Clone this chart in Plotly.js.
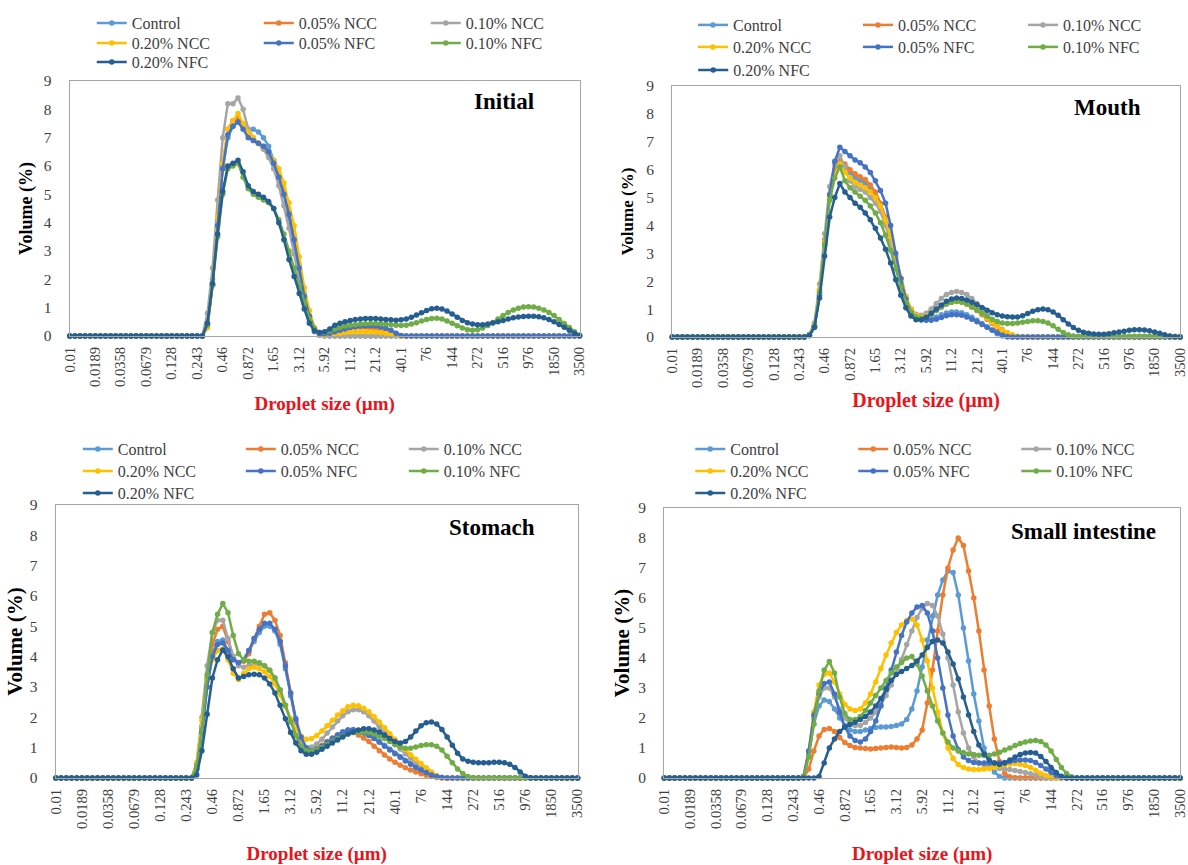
<!DOCTYPE html>
<html>
<head>
<meta charset="utf-8">
<script src="https://cdn.plot.ly/plotly-3.0.1.min.js"></script>
<style>html,body{margin:0;padding:0;background:#fff;}#chart{width:1188px;height:865px;}</style>
</head>
<body>
<div id="chart"></div>
<script>
// Droplet size classes (µm) – 101 categories
const sizes = ['0.01','0.0114','0.0129','0.0147','0.0167','0.0189','0.0215','0.0244','0.0278','0.0315',
'0.0358','0.0407','0.0463','0.0526','0.0597','0.0679','0.0771','0.0876','0.0995','0.113',
'0.128','0.146','0.166','0.188','0.214','0.243','0.276','0.314','0.357','0.405',
'0.46','0.523','0.594','0.675','0.767','0.872','0.991','1.13','1.28','1.45',
'1.65','1.88','2.13','2.42','2.75','3.12','3.55','4.03','4.58','5.21',
'5.92','6.72','7.64','8.68','9.86','11.2','12.7','14.5','16.4','18.7',
'21.2','24.1','27.4','31.1','35.3','40.1','45.6','51.8','58.9','66.9',
'76','86.4','98.1','111','127','144','163','186','211','240',
'272','310','352','400','454','516','586','666','756','859',
'976','1110','1260','1430','1630','1850','2100','2390','2710','3080','3500'];

const tickLabels = ['0.01','0.0189','0.0358','0.0679','0.128','0.243','0.46','0.872','1.65','3.12','5.92',
'11.2','21.2','40.1','76','144','272','516','976','1850','3500'];

const seriesNames = ['Control','0.05% NCC','0.10% NCC','0.20% NCC','0.05% NFC','0.10% NFC','0.20% NFC'];
const panelTitles = ['Initial','Mouth','Stomach','Small intestine'];

// ---------- Initial ----------
const ini_ctrl = [0,0,0,0,0,0,0,0,0,0, 0,0,0,0,0,0,0,0,0,0, 0,0,0,0,0,0,0,
 0.4,2.0,4.1,
 5.9,7.0,7.4,7.6,7.4,7.3,7.3,7.2,7.0,6.7,
 6.2,5.7,5.0,4.2,3.3,2.3,1.4,0.7,0.2,0.05,
 0,0,0,0,0,0,0,0,0,0, 0,0,0,0,0,0,0,0,0,0, 0,0,0,0,0,0,0,0,0,0,
 0,0,0,0,0,0,0,0,0,0, 0,0,0,0,0,0,0,0,0,0, 0];
const ini_ncc05 = [0,0,0,0,0,0,0,0,0,0, 0,0,0,0,0,0,0,0,0,0, 0,0,0,0,0,0,0,
 0.3,1.8,4.0,
 6.0,7.3,7.6,7.7,7.4,7.1,6.9,6.8,6.6,6.4,
 6.1,5.7,5.1,4.4,3.5,2.5,1.5,0.7,0.25,0.08,
 0.05,0.1,0.15,0.2,0.25,0.28,0.3,0.3,0.3,0.28,
 0.25,0.2,0.15,0.08,0.02,0,0,0,0,0,
 0,0,0,0,0,0,0,0,0,0, 0,0,0,0,0,0,0,0,0,0, 0,0,0,0,0,0,0,0,0,0, 0];
const ini_ncc10 = [0,0,0,0,0,0,0,0,0,0, 0,0,0,0,0,0,0,0,0,0, 0,0,0,0,0,0,0,
 0.8,2.4,4.8,
 7.0,8.2,8.2,8.4,8.0,7.3,7.0,6.8,6.6,6.3,
 5.9,5.3,4.6,3.8,2.9,2.0,1.1,0.5,0.15,0.02,
 0,0,0,0,0,0,0,0,0,0, 0,0,0,0,0,0,0,0,0,0, 0,0,0,0,0,0,0,0,0,0,
 0,0,0,0,0,0,0,0,0,0, 0,0,0,0,0,0,0,0,0,0, 0];
const ini_ncc20 = [0,0,0,0,0,0,0,0,0,0, 0,0,0,0,0,0,0,0,0,0, 0,0,0,0,0,0,0,
 0.3,1.8,4.2,
 6.1,7.3,7.6,7.85,7.5,7.2,7.0,6.8,6.7,6.5,
 6.2,5.9,5.4,4.7,3.9,2.8,1.7,0.9,0.3,0.05,
 0.02,0.05,0.08,0.1,0.12,0.14,0.15,0.15,0.15,0.15,
 0.14,0.12,0.1,0.07,0.03,0,0,0,0,0,
 0,0,0,0,0,0,0,0,0,0, 0,0,0,0,0,0,0,0,0,0, 0,0,0,0,0,0,0,0,0,0, 0];
const ini_nfc05 = [0,0,0,0,0,0,0,0,0,0, 0,0,0,0,0,0,0,0,0,0, 0,0,0,0,0,0,0,
 0.4,1.8,3.9,
 5.9,7.1,7.4,7.55,7.3,7.0,6.9,6.8,6.7,6.5,
 6.1,5.6,5.0,4.3,3.4,2.4,1.4,0.7,0.25,0.08,
 0.05,0.1,0.15,0.2,0.25,0.3,0.33,0.35,0.36,0.36,
 0.35,0.32,0.27,0.2,0.1,0.02,0,0,0,0,
 0,0,0,0,0,0,0,0,0,0, 0,0,0,0,0,0,0,0,0,0, 0,0,0,0,0,0,0,0,0,0, 0];
const ini_nfc10 = [0,0,0,0,0,0,0,0,0,0, 0,0,0,0,0,0,0,0,0,0, 0,0,0,0,0,0,0,
 0.4,1.8,3.5,
 5.0,5.9,6.0,6.1,5.6,5.2,5.0,4.9,4.8,4.7,
 4.5,4.1,3.6,3.0,2.4,1.8,1.2,0.6,0.25,0.12,
 0.12,0.18,0.25,0.3,0.35,0.38,0.4,0.42,0.43,0.44,
 0.44,0.43,0.42,0.4,0.38,0.37,0.38,0.42,0.47,0.53,
 0.58,0.62,0.63,0.6,0.53,0.45,0.36,0.28,0.22,0.2,
 0.22,0.28,0.37,0.48,0.6,0.72,0.83,0.92,0.98,1.02,
 1.03,1.02,0.98,0.92,0.83,0.72,0.58,0.44,0.3,0.15,
 0.03];
const ini_nfc20 = [0,0,0,0,0,0,0,0,0,0, 0,0,0,0,0,0,0,0,0,0, 0,0,0,0,0,0,0,
 0.45,1.85,3.6,
 5.1,6.0,6.1,6.2,5.8,5.3,5.1,5.0,4.9,4.75,
 4.5,4.0,3.4,2.7,2.1,1.5,0.95,0.45,0.18,0.12,
 0.15,0.25,0.38,0.45,0.5,0.55,0.58,0.6,0.62,0.62,
 0.62,0.6,0.58,0.57,0.56,0.57,0.6,0.66,0.74,0.82,
 0.9,0.96,0.98,0.95,0.88,0.78,0.66,0.55,0.47,0.42,
 0.4,0.4,0.42,0.46,0.5,0.55,0.6,0.64,0.67,0.69,
 0.7,0.7,0.68,0.64,0.58,0.5,0.41,0.31,0.2,0.1,
 0.02];

// ---------- Mouth ----------
const mou_ctrl = [0,0,0,0,0,0,0,0,0,0, 0,0,0,0,0,0,0,0,0,0, 0,0,0,0,0,0,0,
 0.05,0.4,1.6,
 3.4,5.0,5.9,6.3,6.1,5.9,5.7,5.6,5.5,5.3,
 5.0,4.6,4.1,3.5,2.8,2.1,1.4,0.95,0.72,0.62,
 0.62,0.66,0.72,0.8,0.86,0.9,0.9,0.87,0.8,0.71,
 0.6,0.48,0.36,0.24,0.12,0.04,0,0,0,0,
 0,0,0,0,0,0,0,0,0,0, 0,0,0,0,0,0,0,0,0,0, 0,0,0,0,0,0,0,0,0,0, 0];
const mou_ncc05 = [0,0,0,0,0,0,0,0,0,0, 0,0,0,0,0,0,0,0,0,0, 0,0,0,0,0,0,0,
 0.05,0.4,1.7,
 3.5,5.1,6.0,6.35,6.2,6.0,5.85,5.75,5.65,5.45,
 5.2,4.8,4.3,3.6,2.9,2.1,1.45,1.0,0.78,0.7,
 0.72,0.82,0.95,1.08,1.18,1.25,1.27,1.25,1.18,1.08,
 0.95,0.8,0.64,0.48,0.33,0.2,0.1,0.04,0.01,0,
 0,0,0,0,0,0,0,0,0,0, 0,0,0,0,0,0,0,0,0,0, 0,0,0,0,0,0,0,0,0,0, 0];
const mou_ncc10 = [0,0,0,0,0,0,0,0,0,0, 0,0,0,0,0,0,0,0,0,0, 0,0,0,0,0,0,0,
 0.1,0.5,1.9,
 3.7,5.4,6.2,6.5,6.1,5.6,5.4,5.3,5.2,5.0,
 4.8,4.5,4.0,3.4,2.7,2.0,1.4,1.0,0.82,0.78,
 0.85,1.0,1.2,1.38,1.52,1.6,1.63,1.6,1.52,1.38,
 1.2,1.0,0.8,0.6,0.42,0.27,0.15,0.07,0.02,0,
 0,0,0,0,0,0,0,0,0,0, 0,0,0,0,0,0,0,0,0,0, 0,0,0,0,0,0,0,0,0,0, 0];
const mou_ncc20 = [0,0,0,0,0,0,0,0,0,0, 0,0,0,0,0,0,0,0,0,0, 0,0,0,0,0,0,0,
 0.05,0.4,1.7,
 3.4,5.0,5.8,6.2,5.9,5.7,5.55,5.45,5.35,5.2,
 5.0,4.7,4.2,3.6,2.9,2.1,1.45,1.0,0.78,0.72,
 0.75,0.85,0.98,1.1,1.2,1.26,1.28,1.26,1.2,1.1,
 0.98,0.84,0.68,0.52,0.38,0.25,0.15,0.08,0.03,0,
 0,0,0,0,0,0,0,0,0,0, 0,0,0,0,0,0,0,0,0,0, 0,0,0,0,0,0,0,0,0,0, 0];
const mou_nfc05 = [0,0,0,0,0,0,0,0,0,0, 0,0,0,0,0,0,0,0,0,0, 0,0,0,0,0,0,0,
 0.05,0.35,1.5,
 3.3,5.1,6.3,6.8,6.65,6.5,6.35,6.25,6.1,5.9,
 5.6,5.25,4.8,4.0,3.0,2.1,1.35,0.9,0.7,0.62,
 0.6,0.6,0.64,0.7,0.76,0.8,0.8,0.78,0.72,0.64,
 0.55,0.45,0.35,0.25,0.15,0.06,0.02,0,0,0,
 0,0,0,0,0,0,0,0,0,0, 0,0,0,0,0,0,0,0,0,0, 0,0,0,0,0,0,0,0,0,0, 0];
const mou_nfc10 = [0,0,0,0,0,0,0,0,0,0, 0,0,0,0,0,0,0,0,0,0, 0,0,0,0,0,0,0,
 0.05,0.4,1.6,
 3.3,4.9,5.7,6.1,5.6,5.35,5.2,5.05,4.9,4.7,
 4.45,4.1,3.65,3.1,2.45,1.8,1.25,0.9,0.72,0.68,
 0.72,0.82,0.95,1.08,1.18,1.25,1.28,1.25,1.18,1.08,
 0.96,0.85,0.74,0.64,0.56,0.5,0.48,0.48,0.5,0.53,
 0.56,0.58,0.58,0.56,0.5,0.4,0.28,0.16,0.08,0.04,
 0.03,0.03,0.03,0.03,0.03,0.03,0.03,0.03,0.03,0.03,
 0.03,0.03,0.03,0.03,0.03,0.03,0.03,0.03,0.03,0.03,
 0.02];
const mou_nfc20 = [0,0,0,0,0,0,0,0,0,0, 0,0,0,0,0,0,0,0,0,0, 0,0,0,0,0,0,0,
 0.05,0.35,1.4,
 2.9,4.3,5.0,5.5,5.2,5.0,4.8,4.65,4.45,4.2,
 3.9,3.55,3.15,2.65,2.05,1.5,1.05,0.75,0.62,0.62,
 0.7,0.85,1.0,1.15,1.28,1.36,1.4,1.38,1.33,1.25,
 1.16,1.06,0.96,0.87,0.8,0.75,0.73,0.72,0.72,0.76,
 0.84,0.92,0.98,1.0,0.98,0.9,0.78,0.62,0.47,0.34,
 0.24,0.17,0.13,0.11,0.1,0.1,0.12,0.15,0.18,0.21,
 0.24,0.26,0.26,0.25,0.22,0.18,0.13,0.08,0.04,0.01,
 0];

// ---------- Stomach ----------
const sto_ctrl = [0,0,0,0,0,0,0,0,0,0, 0,0,0,0,0,0,0,0,0,0, 0,0,0,0,0,0,0,
 0.3,1.5,3.0,
 4.1,4.5,4.55,4.2,3.9,3.8,3.9,4.2,4.5,4.8,
 5.0,5.0,4.85,4.4,3.6,2.7,1.85,1.3,1.0,0.9,
 0.95,1.05,1.18,1.3,1.42,1.52,1.58,1.6,1.57,1.5,
 1.42,1.32,1.2,1.08,0.95,0.82,0.7,0.58,0.47,0.37,
 0.28,0.2,0.12,0.06,0.02,0,0,0,0,0,
 0,0,0,0,0,0,0,0,0,0, 0,0,0,0,0,0,0,0,0,0, 0];
const sto_ncc05 = [0,0,0,0,0,0,0,0,0,0, 0,0,0,0,0,0,0,0,0,0, 0,0,0,0,0,0,0,
 0.4,1.7,3.3,
 4.4,4.9,5.0,4.5,4.0,3.8,3.85,4.1,4.6,5.0,
 5.4,5.45,5.2,4.7,3.8,2.8,1.9,1.3,1.0,0.92,
 0.98,1.08,1.2,1.32,1.42,1.5,1.52,1.5,1.42,1.32,
 1.2,1.05,0.9,0.76,0.63,0.52,0.42,0.34,0.26,0.2,
 0.14,0.09,0.05,0.02,0,0,0,0,0,0,
 0,0,0,0,0,0,0,0,0,0, 0,0,0,0,0,0,0,0,0,0, 0];
const sto_ncc10 = [0,0,0,0,0,0,0,0,0,0, 0,0,0,0,0,0,0,0,0,0, 0,0,0,0,0,0,0,
 0.5,2.0,3.7,
 4.8,5.2,5.2,4.6,4.0,3.7,3.65,3.7,3.75,3.75,
 3.7,3.55,3.3,2.9,2.4,1.85,1.4,1.1,1.0,1.02,
 1.12,1.28,1.48,1.68,1.88,2.05,2.18,2.25,2.25,2.18,
 2.05,1.88,1.68,1.48,1.3,1.12,0.96,0.8,0.65,0.5,
 0.37,0.25,0.15,0.07,0.02,0,0,0,0,0,
 0,0,0,0,0,0,0,0,0,0, 0,0,0,0,0,0,0,0,0,0, 0];
const sto_ncc20 = [0,0,0,0,0,0,0,0,0,0, 0,0,0,0,0,0,0,0,0,0, 0,0,0,0,0,0,0,
 0.5,1.9,3.2,
 3.9,4.2,4.25,3.9,3.45,3.25,3.45,3.6,3.65,3.6,
 3.5,3.35,3.1,2.75,2.35,1.95,1.6,1.38,1.28,1.3,
 1.4,1.55,1.72,1.9,2.08,2.22,2.35,2.4,2.38,2.3,
 2.18,2.02,1.85,1.66,1.46,1.28,1.1,0.93,0.77,0.62,
 0.48,0.34,0.2,0.08,0.01,0,0,0,0,0,
 0,0,0,0,0,0,0,0,0,0, 0,0,0,0,0,0,0,0,0,0, 0];
const sto_nfc05 = [0,0,0,0,0,0,0,0,0,0, 0,0,0,0,0,0,0,0,0,0, 0,0,0,0,0,0,0,
 0.3,1.5,3.0,
 4.0,4.4,4.45,4.2,3.9,3.8,3.9,4.2,4.6,4.9,
 5.1,5.1,4.9,4.5,3.7,2.8,1.95,1.35,1.0,0.9,
 0.95,1.05,1.18,1.3,1.42,1.52,1.58,1.58,1.55,1.48,
 1.4,1.3,1.18,1.05,0.92,0.8,0.68,0.56,0.45,0.35,
 0.26,0.18,0.1,0.05,0.02,0,0,0,0,0,
 0,0,0,0,0,0,0,0,0,0, 0,0,0,0,0,0,0,0,0,0, 0];
const sto_nfc10 = [0,0,0,0,0,0,0,0,0,0, 0,0,0,0,0,0,0,0,0,0, 0,0,0,0,0,0,0,
 0.4,1.6,3.4,
 4.8,5.4,5.75,5.45,4.7,4.1,3.9,3.85,3.85,3.8,
 3.7,3.55,3.3,2.9,2.4,1.85,1.4,1.05,0.9,0.88,
 0.92,1.0,1.1,1.2,1.3,1.38,1.45,1.5,1.52,1.52,
 1.5,1.45,1.38,1.3,1.2,1.1,1.02,0.98,0.98,1.02,
 1.07,1.1,1.1,1.05,0.92,0.72,0.5,0.3,0.15,0.05,
 0.01,0,0,0,0,0,0,0,0,0,
 0,0,0,0,0,0,0,0,0,0, 0];
const sto_nfc20 = [0,0,0,0,0,0,0,0,0,0, 0,0,0,0,0,0,0,0,0,0, 0,0,0,0,0,0,0,
 0.1,0.9,2.1,
 3.3,3.9,4.22,4.0,3.6,3.3,3.35,3.4,3.42,3.4,
 3.3,3.1,2.8,2.4,1.95,1.5,1.15,0.9,0.78,0.78,
 0.85,0.95,1.05,1.15,1.25,1.35,1.45,1.52,1.58,1.62,
 1.62,1.58,1.52,1.42,1.3,1.2,1.15,1.2,1.35,1.55,
 1.72,1.82,1.85,1.78,1.6,1.35,1.08,0.82,0.63,0.55,
 0.52,0.5,0.5,0.5,0.52,0.52,0.5,0.45,0.35,0.2,
 0.06,0.01,0,0,0,0,0,0,0,0,
 0];

// ---------- Small intestine ----------
const si_ctrl = [0,0,0,0,0,0,0,0,0,0, 0,0,0,0,0,0,0,0,0,0, 0,0,0,0,0,0,0,
 0.05,0.8,1.8,
 2.4,2.6,2.55,2.3,2.0,1.75,1.6,1.55,1.55,1.6,
 1.65,1.68,1.7,1.7,1.72,1.75,1.8,1.95,2.3,2.9,
 3.7,4.6,5.4,6.1,6.6,6.9,6.85,6.1,5.0,3.9,
 2.8,1.9,1.0,0.5,0.2,0.05,0,0,0,0,
 0,0,0,0,0,0,0,0,0,0, 0,0,0,0,0,0,0,0,0,0, 0,0,0,0,0,0,0,0,0,0, 0];
const si_ncc05 = [0,0,0,0,0,0,0,0,0,0, 0,0,0,0,0,0,0,0,0,0, 0,0,0,0,0,0,0,
 0,0.3,0.9,
 1.4,1.62,1.65,1.55,1.35,1.18,1.08,1.02,1.0,0.98,
 0.97,0.98,1.0,1.02,1.03,1.02,1.0,1.02,1.1,1.3,
 1.6,2.5,3.6,4.9,6.1,7.0,7.6,8.0,7.75,6.9,
 6.0,4.9,3.6,2.4,1.3,0.55,0.15,0.04,0.01,0,
 0,0,0,0,0,0,0,0,0,0, 0,0,0,0,0,0,0,0,0,0, 0,0,0,0,0,0,0,0,0,0, 0];
const si_ncc10 = [0,0,0,0,0,0,0,0,0,0, 0,0,0,0,0,0,0,0,0,0, 0,0,0,0,0,0,0,
 0.05,0.8,2.0,
 2.7,3.0,3.0,2.7,2.3,2.0,1.8,1.75,1.75,1.85,
 2.0,2.2,2.45,2.75,3.1,3.5,3.95,4.45,4.9,5.35,
 5.65,5.82,5.75,5.4,4.8,4.0,3.1,2.2,1.5,1.0,
 0.7,0.5,0.42,0.38,0.35,0.32,0.3,0.28,0.25,0.22,
 0.18,0.14,0.1,0.05,0.02,0,0,0,0,0,
 0,0,0,0,0,0,0,0,0,0, 0,0,0,0,0,0,0,0,0,0, 0];
const si_ncc20 = [0,0,0,0,0,0,0,0,0,0, 0,0,0,0,0,0,0,0,0,0, 0,0,0,0,0,0,0,
 0.05,0.9,2.2,
 3.1,3.45,3.5,3.2,2.8,2.45,2.3,2.25,2.3,2.5,
 2.8,3.2,3.65,4.1,4.5,4.85,5.1,5.25,5.3,5.1,
 4.6,3.9,3.0,2.2,1.5,1.0,0.65,0.45,0.35,0.3,
 0.28,0.28,0.3,0.32,0.36,0.4,0.44,0.47,0.48,0.46,
 0.42,0.35,0.26,0.16,0.08,0.02,0,0,0,0,
 0,0,0,0,0,0,0,0,0,0, 0,0,0,0,0,0,0,0,0,0, 0];
const si_nfc05 = [0,0,0,0,0,0,0,0,0,0, 0,0,0,0,0,0,0,0,0,0, 0,0,0,0,0,0,0,
 0.05,0.9,2.1,
 2.8,3.15,3.2,2.8,2.2,1.7,1.4,1.25,1.2,1.3,
 1.55,1.9,2.4,3.0,3.6,4.2,4.75,5.2,5.5,5.7,
 5.75,5.5,4.9,4.0,3.0,2.1,1.4,0.95,0.7,0.58,
 0.52,0.5,0.5,0.5,0.5,0.5,0.52,0.55,0.58,0.6,
 0.6,0.58,0.52,0.42,0.3,0.18,0.08,0.02,0,0,
 0,0,0,0,0,0,0,0,0,0, 0,0,0,0,0,0,0,0,0,0, 0];
const si_nfc10 = [0,0,0,0,0,0,0,0,0,0, 0,0,0,0,0,0,0,0,0,0, 0,0,0,0,0,0,0,
 0.05,0.7,1.8,
 2.9,3.6,3.88,3.5,2.7,2.15,1.95,1.95,2.05,2.25,
 2.5,2.75,3.0,3.25,3.5,3.7,3.85,4.0,4.05,3.8,
 3.4,2.9,2.4,1.9,1.5,1.2,1.0,0.9,0.85,0.8,
 0.78,0.76,0.75,0.76,0.8,0.86,0.93,1.0,1.08,1.15,
 1.2,1.23,1.25,1.22,1.1,0.9,0.62,0.35,0.15,0.04,
 0,0,0,0,0,0,0,0,0,0, 0,0,0,0,0,0,0,0,0,0, 0];
const si_nfc20 = [0,0,0,0,0,0,0,0,0,0, 0,0,0,0,0,0,0,0,0,0, 0,0,0,0,0,0,0,
 0,0,0,
 0.05,0.5,1.0,1.3,1.55,1.7,1.78,1.86,1.95,2.05,
 2.2,2.4,2.65,2.95,3.25,3.45,3.55,3.65,3.75,3.9,
 4.1,4.35,4.55,4.6,4.5,4.2,3.8,3.3,2.7,2.1,
 1.55,1.1,0.8,0.6,0.5,0.45,0.5,0.6,0.7,0.78,
 0.83,0.85,0.83,0.72,0.55,0.35,0.18,0.06,0.01,0,
 0,0,0,0,0,0,0,0,0,0, 0,0,0,0,0,0,0,0,0,0, 0];

const panelData = [
  [ini_ctrl, ini_ncc05, ini_ncc10, ini_ncc20, ini_nfc05, ini_nfc10, ini_nfc20],
  [mou_ctrl, mou_ncc05, mou_ncc10, mou_ncc20, mou_nfc05, mou_nfc10, mou_nfc20],
  [sto_ctrl, sto_ncc05, sto_ncc10, sto_ncc20, sto_nfc05, sto_nfc10, sto_nfc20],
  [si_ctrl,  si_ncc05,  si_ncc10,  si_ncc20,  si_nfc05,  si_nfc10,  si_nfc20]
];

// ---------- styling / geometry ----------
const W = 1188, H = 865;
const colors = ['#5B9BD5','#ED7D31','#A5A5A5','#FFC000','#4472C4','#70AD47','#255E91'];
const FONT = 'Liberation Serif, Times New Roman, serif';

// plot areas in pixels: [left, right, top, bottom]
const boxes = [
  [70, 581, 81, 336],
  [674, 1183, 86, 337],
  [56, 579, 505, 778],
  [666, 1183, 508, 778]
];
const ytitleSize = [18, 17, 21, 21];
const ytitleStandoff = [6, 8, 1, 2];
const xtitleSize = [19, 20, 19, 19];
const xtitleStandoff = [10, 6, 26, 24];
const legendLeft = [92, 695, 78, 692];
const legendRows = [[23, 43, 62], [25, 47, 70], [449, 471, 493], [449, 471, 493]];
const entryW = [122, 120, 118, 118];
const titlePos = [[505, 101], [1110, 107], [493, 527], [1086, 531]];

const traces = [];
const layout = {
  width: W, height: H,
  margin: {l: 0, r: 0, t: 0, b: 0},
  paper_bgcolor: '#ffffff', plot_bgcolor: '#ffffff',
  showlegend: true,
  annotations: []
};

for (let p = 0; p < 4; p++) {
  const sfx = p === 0 ? '' : String(p + 1);
  const [l, r, t, b] = boxes[p];
  layout['xaxis' + sfx] = {
    type: 'category',
    domain: [l / W, r / W],
    anchor: 'y' + sfx,
    range: [0, sizes.length - 1],
    tickmode: 'array', tickvals: tickLabels, ticktext: tickLabels,
    tickangle: -90,
    ticks: '', showgrid: false, zeroline: false,
    showline: true, mirror: true, linecolor: '#A6A6A6', linewidth: 1.3,
    tickfont: {family: FONT, size: 14.5, color: '#404040'},
    ticklabelstandoff: 4,
    title: {text: 'Droplet size (µm)', standoff: xtitleStandoff[p],
            font: {family: FONT, size: xtitleSize[p], color: '#E8141B', weight: 'bold'}},
    fixedrange: true
  };
  layout['yaxis' + sfx] = {
    domain: [1 - b / H, 1 - t / H],
    anchor: 'x' + sfx,
    range: [0, 9], dtick: 1, tick0: 0,
    ticks: '', showgrid: false, zeroline: false,
    showline: true, mirror: true, linecolor: '#A6A6A6', linewidth: 1.3,
    tickfont: {family: FONT, size: 15.5, color: '#404040'},
    ticklabelstandoff: 14,
    title: {text: 'Volume (%)', standoff: ytitleStandoff[p],
            font: {family: FONT, size: ytitleSize[p], color: '#000000', weight: 'bold'}},
    fixedrange: true
  };
  layout.annotations.push({
    xref: 'paper', yref: 'paper', x: titlePos[p][0] / W, y: 1 - titlePos[p][1] / H,
    xanchor: 'center', yanchor: 'middle', showarrow: false,
    text: '<b>' + panelTitles[p] + '</b>',
    font: {family: FONT, size: 23, color: '#000000'}
  });
  for (let row = 0; row < 3; row++) {
    const n = p * 3 + row + 1;
    const key = n === 1 ? 'legend' : 'legend' + n;
    layout[key] = {
      x: legendLeft[p] / W, y: 1 - legendRows[p][row] / H,
      xanchor: 'left', yanchor: 'middle',
      orientation: 'h', entrywidth: entryW[p], entrywidthmode: 'pixels',
      bgcolor: 'rgba(0,0,0,0)', borderwidth: 0,
      font: {family: FONT, size: 16, color: '#404040'},
      traceorder: 'normal', itemclick: false, itemdoubleclick: false
    };
  }
  for (let s = 0; s < 7; s++) {
    const row = s < 3 ? 0 : (s < 6 ? 1 : 2);
    const n = p * 3 + row + 1;
    traces.push({
      type: 'scatter', mode: 'lines+markers',
      x: sizes, y: panelData[p][s],
      name: seriesNames[s],
      xaxis: 'x' + sfx, yaxis: 'y' + sfx,
      legend: n === 1 ? 'legend' : 'legend' + n,
      line: {color: colors[s], width: 2.5},
      marker: {color: colors[s], size: 5.5, symbol: 'circle'},
      cliponaxis: false,
      hoverinfo: 'x+y+name'
    });
  }
}

Plotly.newPlot('chart', traces, layout, {displayModeBar: false, staticPlot: true});
</script>
</body>
</html>
